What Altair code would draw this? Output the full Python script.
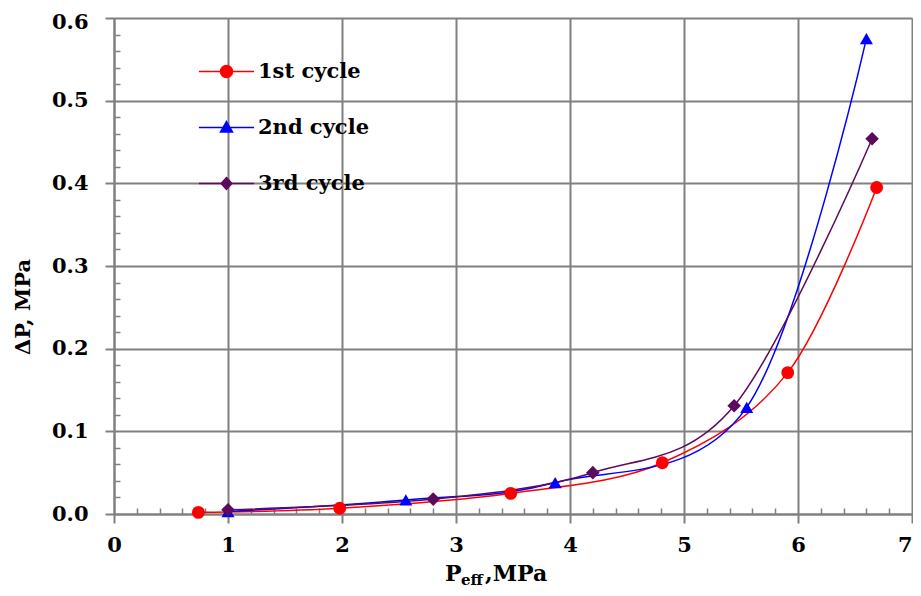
import altair as alt
import pandas as pd

series = ["1st cycle", "2nd cycle", "3rd cycle"]
x1 = [0.74, 1.98, 3.48, 4.81, 5.91, 6.69]
y1 = [0.002, 0.007, 0.025, 0.062, 0.171, 0.395]
x2 = [1.0, 2.56, 3.87, 5.55, 6.60]
y2 = [0.003, 0.017, 0.038, 0.129, 0.575]
x3 = [1.0, 2.80, 4.20, 5.44, 6.65]
y3 = [0.005, 0.018, 0.050, 0.131, 0.454]
colors = ["#FF0000", "#0000FF", "#5C0A5C"]
markers = ["circle", "triangle-up", "diamond"]
marker_sizes = [165, 170, 185]
x_ticks = [0, 1, 2, 3, 4, 5, 6, 7]
y_ticks = [0.0, 0.1, 0.2, 0.3, 0.4, 0.5, 0.6]
x_minor = [round(i * 0.2, 2) for i in range(36) if i % 5 != 0]
y_minor = [round(i * 0.02, 2) for i in range(31) if i % 5 != 0]

rows = []
for name, xs, ys in zip(series, [x1, x2, x3], [y1, y2, y3]):
    for i, (a, b) in enumerate(zip(xs, ys)):
        rows.append({"series": name, "x": a, "y": b, "order": i})
df = pd.DataFrame(rows)

W, H = 798, 496
FONT = "DejaVu Serif"
GRID = "#808080"

xscale = alt.Scale(domain=[0, 7], nice=False, zero=False)
yscale = alt.Scale(domain=[0, 0.6], nice=False, zero=False)

# legend symbol paths: a line with the marker on it
p_circle = "M-4.6,0H4.6M1,0A1,1 0 1,1 -1,0A1,1 0 1,1 1,0Z"
p_tri = "M-4.6,0H4.6M0,-1.0L1.0,0.75L-1.0,0.75Z"
p_dia = "M-4.6,0H4.6M0,-1.0L0.9,0L0,1.0L-0.9,0Z"

legend = alt.Legend(
    orient="none", legendX=102, legendY=43, title=None,
    labelFont=FONT, labelFontSize=21, labelFontWeight="bold", labelColor="black",
    labelOffset=21, symbolSize=144, symbolStrokeWidth=1.5, rowPadding=34, padding=0,
    symbolOpacity=1,
)

main_x_axis = alt.Axis(values=x_ticks, format="d", title=None, grid=True, gridColor=GRID,
                       gridWidth=2, domainColor=GRID, domainWidth=2, tickColor=GRID,
                       tickWidth=2, tickSize=9, labelFont=FONT, labelFontSize=21,
                       labelFontWeight="bold", labelColor="black", labelPadding=11,
                       labelFlush=False,
                       labelAlign={"condition": {"test": "datum.value == 7", "value": "right"},
                                   "value": "center"})
main_y_axis = alt.Axis(values=y_ticks, format=".1f", title=None, grid=True, gridColor=GRID,
                       gridWidth=2, domainColor=GRID, domainWidth=2, tickColor=GRID,
                       tickWidth=2, tickSize=9, labelFont=FONT, labelFontSize=21,
                       labelFontWeight="bold", labelColor="black", labelPadding=17,
                       labelFlush=False,
                       labelOffset={"condition": {"test": "datum.value == 0.6", "value": 4},
                                    "value": 0})
minor_x_axis = alt.Axis(values=x_minor, orient="top", offset=-H, labels=False, domain=False,
                        grid=False, title=None, tickColor=GRID, tickWidth=1.5, tickSize=6)
minor_y_axis = alt.Axis(values=y_minor, orient="right", offset=-W, labels=False, domain=False,
                        grid=False, title=None, tickColor=GRID, tickWidth=1.5, tickSize=6)

base = alt.Chart(df)

# legend-only layer (invisible marks)
legend_layer = base.mark_point(opacity=0, filled=False).encode(
    x=alt.X("x:Q", scale=xscale, axis=main_x_axis),
    y=alt.Y("y:Q", scale=yscale, axis=main_y_axis),
    fill=alt.Fill("series:N", scale=alt.Scale(domain=series, range=colors), legend=legend),
    stroke=alt.Stroke("series:N", scale=alt.Scale(domain=series, range=colors), legend=legend),
    shape=alt.Shape("series:N", scale=alt.Scale(domain=series, range=[p_circle, p_tri, p_dia]),
                    legend=legend),
)

minor_layer = base.mark_point(opacity=0).encode(
    x=alt.X("x:Q", scale=xscale, axis=minor_x_axis),
    y=alt.Y("y:Q", scale=yscale, axis=minor_y_axis),
)

layers = [legend_layer, minor_layer]
for name, col in zip(series, colors):
    layers.append(base.transform_filter(alt.datum.series == name).mark_line(
        interpolate="cardinal", strokeWidth=1.5, color=col).encode(
        x=alt.X("x:Q", scale=xscale, axis=None),
        y=alt.Y("y:Q", scale=yscale, axis=None),
        order="order:Q"))
for name, col, mk, sz in zip(series, colors, markers, marker_sizes):
    layers.append(base.transform_filter(alt.datum.series == name).mark_point(
        filled=True, opacity=1, color=col, shape=mk, size=sz).encode(
        x=alt.X("x:Q", scale=xscale, axis=None),
        y=alt.Y("y:Q", scale=yscale, axis=None)))

tstyle = dict(font=FONT, fontWeight="bold", color="black", align="left", baseline="alphabetic")
layers.append(alt.Chart().mark_text(text="P", fontSize=22, **tstyle).encode(
    x=alt.value(331), y=alt.value(563)))
layers.append(alt.Chart().mark_text(text="eff", fontSize=15, **tstyle).encode(
    x=alt.value(347), y=alt.value(567)))
layers.append(alt.Chart().mark_text(text=",MPa", fontSize=22, **tstyle).encode(
    x=alt.value(371), y=alt.value(563)))
layers.append(alt.Chart().mark_text(text="ΔP, MPa", fontSize=21, font=FONT, fontWeight="bold",
                                    color="black", angle=270, align="center",
                                    baseline="middle").encode(x=alt.value(-90), y=alt.value(289)))

chart = alt.layer(*layers).resolve_axis(
    x="independent", y="independent"
).properties(
    width=W, height=H,
    autosize=alt.AutoSizeParams(type="none"),
    padding={"left": 106, "top": 10, "right": 1, "bottom": 74},
).configure_view(stroke=None).configure(background="white")

chart.save("out.html", embed_options={"renderer": "svg", "actions": False})
